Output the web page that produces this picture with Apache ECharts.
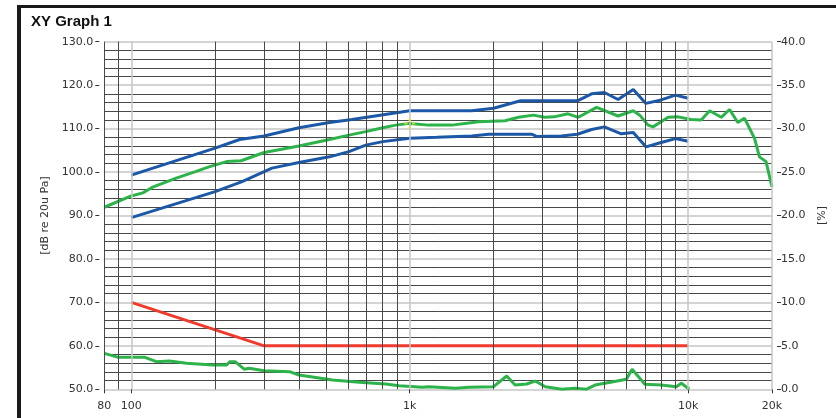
<!DOCTYPE html>
<html>
<head>
<meta charset="utf-8">
<script src="https://cdn.jsdelivr.net/npm/echarts@6/dist/echarts.min.js"></script>
<style>
html,body{margin:0;padding:0;background:#fff;}
#chart{width:836px;height:418px;}
</style>
</head>
<body>
<div id="chart"></div>
<script>
// ---- data ----
const xTickValues = [80, 100, 1000, 10000, 20000];
const gridFreqsMinor = [80, 90, 200, 300, 400, 500, 600, 700, 800, 900, 2000, 3000, 4000, 5000, 6000, 7000, 8000, 9000];
const gridFreqsMajor = [100, 1000, 10000, 20000];

const upperFreq = [100, 200, 245, 300, 400, 515, 620, 1000, 1670, 2000, 2500, 4000, 4500, 5000, 5600, 6350, 7050, 8000, 9000, 10000];
const upperLimit = [99.3, 105.5, 107.5, 108.3, 110.2, 111.4, 112.1, 114.1, 114.1, 114.7, 116.4, 116.4, 118.0, 118.3, 116.7, 119.0, 115.8, 116.6, 117.7, 117.0];

const lowerFreq = [100, 200, 250, 320, 400, 515, 605, 695, 800, 1000, 1250, 1670, 1920, 2750, 2850, 3500, 4000, 4500, 5000, 5750, 6350, 7050, 8000, 9000, 10000];
const lowerLimit = [89.5, 95.5, 97.8, 100.9, 102.2, 103.5, 104.7, 106.2, 107.0, 107.8, 108.0, 108.3, 108.7, 108.7, 108.2, 108.3, 108.7, 109.8, 110.4, 108.8, 109.1, 105.8, 106.8, 107.7, 107.1];

const respFreq = [80, 100, 110, 120, 145, 170, 190, 220, 248, 300, 400, 515, 605, 695, 800, 890, 1000, 1170, 1420, 1770, 2200, 2460, 2780, 3050, 3300, 3700, 4030, 4690, 5600, 6350, 6700, 7180, 7480, 8470, 9200, 10260, 11140, 11940, 13140, 14080, 15070, 15920, 17300, 18030, 19040, 20000];
const respLevel = [91.9, 94.5, 95.2, 96.6, 98.6, 100.1, 101.2, 102.4, 102.6, 104.5, 106.0, 107.5, 108.5, 109.3, 110.2, 110.8, 111.2, 110.8, 110.8, 111.6, 111.8, 112.6, 113.1, 112.6, 112.7, 113.4, 112.6, 114.9, 112.9, 114.1, 113.1, 110.8, 110.4, 112.6, 112.7, 112.1, 112.0, 114.1, 112.6, 114.4, 111.4, 112.4, 107.8, 103.5, 102.4, 96.6];

const thdFreq = [80, 90, 112, 123, 137, 158, 196, 220, 226, 236, 255, 265, 300, 370, 400, 528, 658, 820, 915, 1110, 1170, 1460, 1630, 2000, 2230, 2390, 2630, 2820, 3070, 3520, 3930, 4300, 4630, 5380, 6000, 6290, 6990, 8000, 9070, 9450, 10100];
const thdPercent = [4.14, 3.68, 3.68, 3.18, 3.26, 3.0, 2.8, 2.8, 3.18, 3.18, 2.3, 2.42, 2.14, 2.03, 1.65, 1.07, 0.8, 0.61, 0.41, 0.23, 0.3, 0.11, 0.23, 0.3, 1.53, 0.49, 0.61, 0.95, 0.3, 0.0, 0.11, 0.0, 0.49, 0.87, 1.15, 2.3, 0.58, 0.49, 0.3, 0.69, 0.0];

const limitFreq = [100, 300, 10000];
const limitLevel = [70, 60, 60];

const cursorPoint = [[1000, 111.2]];

const zip = (a, b) => a.map((v, i) => [v, b[i]]);

const chart = echarts.init(document.getElementById('chart'), null, {renderer: 'canvas'});
const FONT = 'DejaVu Sans';
const DARK = '#484848';
const LIGHT = '#c6c6c6';

const vLines = gridFreqsMinor.map(f => ({xAxis: f, lineStyle: {color: DARK, width: 1, type: 'solid'}}))
  .concat(gridFreqsMajor.map(f => ({xAxis: f, lineStyle: {color: LIGHT, width: 1.5, type: 'solid'}})));

const option = {
  animation: false,
  backgroundColor: '#ffffff',
  title: {
    text: 'XY Graph 1', left: 26, top: 9,
    textStyle: {fontFamily: 'Liberation Sans', fontWeight: 'bold', fontSize: 15, color: '#111'}
  },
  graphic: [
    {type: 'rect', shape: {x: 17, y: 5, width: 4, height: 413}, style: {fill: '#1a1a1a'}, silent: true},
    {type: 'rect', shape: {x: 17, y: 5, width: 819, height: 3}, style: {fill: '#1a1a1a'}, silent: true}
  ],
  grid: {left: 104.3, right: 61.7, top: 41.7, bottom: 28.7, containLabel: false},
  xAxis: {
    type: 'log', logBase: 10, min: 80, max: 20000, offset: 4,
    axisLine: {show: false},
    axisTick: {show: true, length: 4, customValues: xTickValues, lineStyle: {color: '#333'}},
    axisLabel: {
      customValues: xTickValues, margin: 7,
      fontFamily: FONT, fontSize: 11, color: '#333',
      formatter: v => { const r = Math.round(v); return r >= 1000 ? (r / 1000) + 'k' : String(r); }
    },
    splitLine: {show: false}
  },
  yAxis: [
    {
      type: 'value', min: 50, max: 130, interval: 10, position: 'left', offset: 5,
      name: '[dB re 20u Pa]', nameLocation: 'middle', nameGap: 42,
      nameTextStyle: {fontFamily: FONT, fontSize: 11, color: '#333'},
      axisLine: {show: false},
      axisTick: {show: true, length: 4, lineStyle: {color: '#333'}},
      axisLabel: {margin: 6, fontFamily: FONT, fontSize: 11, color: '#333', formatter: v => v.toFixed(1)},
      splitLine: {show: true, lineStyle: {color: LIGHT, width: 1.5}},
      minorTick: {show: false, splitNumber: 5},
      minorSplitLine: {show: true, lineStyle: {color: DARK, width: 1}}
    },
    {
      type: 'value', min: 0, max: 40, interval: 5, position: 'right', offset: 5,
      name: '[%]', nameLocation: 'middle', nameGap: 40,
      nameTextStyle: {fontFamily: FONT, fontSize: 11, color: '#333'},
      axisLine: {show: false},
      axisTick: {show: true, length: 4, lineStyle: {color: '#333'}},
      axisLabel: {margin: 4, fontFamily: FONT, fontSize: 11, color: '#333', formatter: v => v.toFixed(1)},
      splitLine: {show: false}
    }
  ],
  series: [
    {
      name: 'grid', type: 'line', data: [], z: 1, silent: true,
      markLine: {silent: true, symbol: ['none', 'none'], label: {show: false}, animation: false, data: vLines}
    },
    {name: 'upper', type: 'line', data: zip(upperFreq, upperLimit), showSymbol: false, z: 3,
     lineStyle: {color: '#1c58a8', width: 3}},
    {name: 'lower', type: 'line', data: zip(lowerFreq, lowerLimit), showSymbol: false, z: 3,
     lineStyle: {color: '#1c58a8', width: 3}},
    {name: 'response', type: 'line', data: zip(respFreq, respLevel), showSymbol: false, z: 4,
     lineStyle: {color: '#2cb34a', width: 3}},
    {name: 'limit', type: 'line', data: zip(limitFreq, limitLevel), showSymbol: false, z: 3,
     lineStyle: {color: '#f03a2d', width: 3}},
    {name: 'thd', type: 'line', yAxisIndex: 1, data: zip(thdFreq, thdPercent), showSymbol: false, z: 3,
     lineStyle: {color: '#2cb34a', width: 3}},
    {name: 'cursor', type: 'scatter', data: cursorPoint, z: 5, silent: true,
     symbol: 'path://M4,0 L6,0 L6,3 L4,3 Z M4,7 L6,7 L6,10 L4,10 Z M0,4 L3,4 L3,6 L0,6 Z M7,4 L10,4 L10,6 L7,6 Z',
     symbolSize: 11, itemStyle: {color: '#e2dc3c'}}
  ]
};
chart.setOption(option);
</script>
</body>
</html>
